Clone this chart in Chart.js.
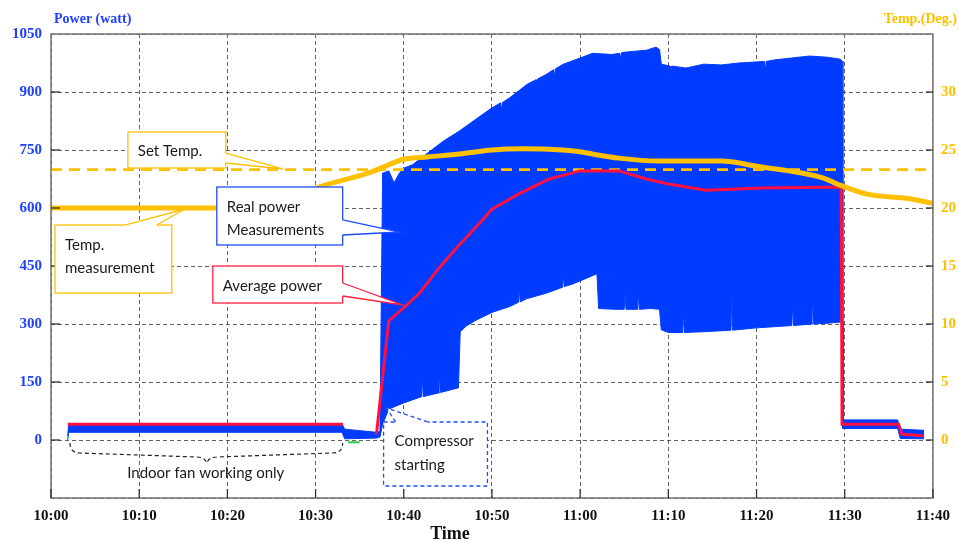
<!DOCTYPE html>
<html>
<head>
<meta charset="utf-8">
<script src="https://cdn.jsdelivr.net/npm/chart.js@4.4.0/dist/chart.umd.min.js"></script>
<style>
  html, body { margin: 0; padding: 0; background: #ffffff; }
  canvas { display: block; }
</style>
</head>
<body>
<canvas id="c" width="959" height="542"></canvas>
<script>
// ---- Data (time in minutes after 10:00) ----
const timeLabels = ['10:00','10:10','10:20','10:30','10:40','10:50','11:00','11:10','11:20','11:30','11:40'];

// Real power measurements: envelope (min / max of the fast-varying signal), watts
const upperTime = [1.9, 2.0, 33.0, 33.3, 36.9, 37.3, 37.6, 38.3, 38.9, 39.5, 40.0, 41.0, 42.7, 44.5, 46.3, 48.2, 50.0, 51.0, 51.1, 51.2, 52.0, 54.0, 55.0, 55.1, 55.2, 56.2, 57.0, 57.1, 57.2, 58.1, 60.0, 61.4, 63.6, 64.5, 64.6, 64.7, 65.5, 67.5, 68.6, 69.0, 69.2, 70.2, 70.3, 70.4, 72.0, 74.0, 76.0, 78.0, 80.9, 81.0, 81.1, 82.0, 84.0, 86.0, 88.0, 89.5, 89.7, 89.8, 96.0, 96.3, 99.0];
const upperWatt = [10, 42, 42, 28, 20, 22, 690, 696, 665, 690, 703, 712, 742, 773, 799, 830, 859, 872, 850, 873, 885, 920, 932, 912, 934, 946, 958, 940, 960, 972, 988, 1000, 997, 1000, 985, 1002, 1004, 1008, 1016, 1010, 972, 967, 935, 967, 962, 972, 970, 975, 979, 953, 979, 983, 988, 993, 990, 985, 980, 52, 52, 28, 25];

const lowerTime = [1.9, 2.0, 33.0, 33.3, 36.9, 37.3, 37.6, 38.3, 40.0, 42.0, 42.1, 42.2, 42.7, 44.0, 44.1, 44.2, 44.5, 46.2, 46.4, 47.1, 48.2, 50.0, 52.0, 53.0, 53.1, 53.2, 53.9, 56.2, 58.0, 58.1, 58.2, 59.1, 61.4, 61.9, 62.1, 64.0, 65.0, 65.1, 65.2, 66.5, 66.6, 66.7, 68.0, 69.0, 69.2, 70.0, 71.6, 71.7, 71.8, 74.0, 77.1, 77.2, 77.3, 80.0, 82.0, 84.0, 84.1, 84.2, 86.3, 86.4, 86.5, 88.0, 89.5, 89.7, 89.8, 96.0, 96.3, 99.0];
const lowerWatt = [0, 20, 20, 3, 5, 8, 40, 80, 96, 112, 165, 112, 115, 122, 160, 123, 125, 135, 280, 295, 310, 330, 345, 356, 390, 357, 365, 380, 395, 425, 397, 403, 425, 430, 340, 338, 338, 385, 338, 338, 380, 338, 340, 338, 285, 278, 278, 334, 278, 280, 284, 385, 284, 290, 293, 296, 350, 296, 300, 352, 300, 302, 305, 305, 30, 30, 4, 3];

// Average power, watts
const avgTime = [1.9, 33.1, 33.2, 36.9, 38.3, 40.0, 41.8, 44.0, 46.0, 48.2, 50.0, 53.0, 56.5, 60.0, 64.4, 67.5, 70.0, 74.3, 80.6, 89.6, 89.7, 96.1, 96.5, 99.0];
const avgWatt = [41, 41, null, 14, 308, 342, 380, 445, 497, 551, 597, 636, 675, 696, 696, 675, 662, 646, 652, 654, 41, 41, 15, 11];

// Temperature measurement, degrees
const tempTime = [0, 22.5, 27.0, 30.8, 36.3, 38.2, 40.0, 42.7, 46.3, 50.0, 53.5, 58.0, 60.0, 61.4, 64.4, 68.9, 76.0, 80.0, 87.5, 89.7, 92.5, 97.4, 100];
const tempDeg = [20.0, 20.0, 20.8, 21.9, 23.1, 23.7, 24.2, 24.4, 24.65, 25.0, 25.1, 25.0, 24.85, 24.65, 24.3, 24.05, 24.05, 23.6, 22.6, 21.9, 21.2, 20.8, 20.4];

// Set temperature, degrees
const setTime = [0, 100];
const setDeg = [23.3, 23.3];

// Small green trace before compressor start, watts
const greenTime = [33.7, 35.0];
const greenWatt = [-6, -6];

const pts = (xs, ys) => xs.map((x, i) => ({ x: x, y: ys[i] }));

// ---- Annotations (data coordinates: minutes, watts) ----
const notes = [
  { lines: ['Set Temp.'], color: '#FFC000', dash: false,
    box: [8.72, 796.5, 19.82, 703.4], tip: [26.27, 700.9], base: [[19.82, 742.2], [19.82, 716.4]],
    text: [9.85, 747.4], gap: 59.5 },
  { lines: ['Temp.', 'measurement'], color: '#FFC000', dash: false,
    box: [0.45, 556, 13.7, 380], tip: [15.18, 597.4], base: [[8.38, 556], [12.0, 556]],
    text: [1.59, 504.3], gap: 59.5 },
  { lines: ['Real power', 'Measurements'], color: '#1F4BFF', dash: false,
    box: [18.8, 654.3, 33.07, 504.3], tip: [39.52, 537.9], base: [[33.07, 569], [33.07, 530.2]],
    text: [19.93, 602.6], gap: 59.5 },
  { lines: ['Average power'], color: '#FF2040', dash: false,
    box: [18.35, 450, 33.07, 354.3], tip: [39.86, 349.1], base: [[33.07, 406], [33.07, 372.4]],
    text: [19.48, 398.3], gap: 59.5 },
  { lines: ['Compressor', 'starting'], color: '#1F4BFF', dash: true,
    box: [37.71, 46.6, 49.49, -119], tip: [38.05, 82.8], base: [[39.07, 46.6], [42.7, 46.6]],
    text: [38.96, -2.6], gap: 62 }
];
const brace = { label: 'Indoor fan working only', text: [17.55, -85.3],
  left: [2.15, -7.8], leftBend: [3.28, -33.6], midL: [16.53, -44], tipPt: [17.67, -59.5],
  midR: [18.8, -44], rightBend: [31.94, -33.6], right: [33.07, -7.8] };

const deco = {
  id: 'deco',
  afterDatasetsDraw(chart) {
    const { ctx, chartArea: a, scales } = chart;
    const X = v => scales.x.getPixelForValue(v);
    const Y = v => scales.y.getPixelForValue(v);
    const line = (x1, y1, x2, y2) => { ctx.beginPath(); ctx.moveTo(x1, y1); ctx.lineTo(x2, y2); ctx.stroke(); };
    ctx.save();
    // plot border
    ctx.setLineDash([]);
    ctx.strokeStyle = '#7a7a7a'; ctx.lineWidth = 1.6;
    ctx.strokeRect(a.left, a.top, a.right - a.left, a.bottom - a.top);
    // inward tick marks
    ctx.strokeStyle = '#333'; ctx.lineWidth = 1.3;
    scales.x.ticks.forEach(t => { const px = X(t.value); line(px, a.bottom, px, a.bottom - 9); });
    scales.y.ticks.forEach(t => { if (t.value >= 0 && t.value < 1050) { const py = Y(t.value); line(a.left, py, a.left + 9, py); } });
    scales.y2.ticks.forEach(t => { if (t.value >= 0 && t.value < 35) { const py = scales.y2.getPixelForValue(t.value); line(a.right, py, a.right - 7, py); } });

    // callout boxes
    notes.forEach(n => {
      const L = X(n.box[0]), T = Y(n.box[1]), R = X(n.box[2]), B = Y(n.box[3]);
      const tip = [X(n.tip[0]), Y(n.tip[1])];
      const b1 = [X(n.base[0][0]), Y(n.base[0][1])];
      const b2 = [X(n.base[1][0]), Y(n.base[1][1])];
      ctx.setLineDash([]);
      ctx.fillStyle = '#ffffff';
      ctx.beginPath(); ctx.moveTo(b1[0], b1[1]); ctx.lineTo(tip[0], tip[1]); ctx.lineTo(b2[0], b2[1]); ctx.closePath(); ctx.fill();
      ctx.fillRect(L, T, R - L, B - T);
      ctx.setLineDash(n.dash ? [4, 3] : []);
      ctx.strokeStyle = n.color; ctx.lineWidth = 1.3;
      ctx.strokeRect(L, T, R - L, B - T);
      ctx.setLineDash([]);
      ctx.strokeStyle = '#ffffff'; ctx.lineWidth = 3;
      line(b1[0], b1[1], b2[0], b2[1]);
      ctx.setLineDash(n.dash ? [4, 3] : []);
      ctx.strokeStyle = n.color; ctx.lineWidth = 1.3;
      ctx.beginPath(); ctx.moveTo(b1[0], b1[1]); ctx.lineTo(tip[0], tip[1]); ctx.lineTo(b2[0], b2[1]); ctx.stroke();
      ctx.setLineDash([]);
      ctx.fillStyle = '#1a1a1a';
      ctx.font = '15px Lato, "Open Sans", sans-serif';
      ctx.textAlign = 'left'; ctx.textBaseline = 'middle';
      const tx = X(n.text[0]), ty = Y(n.text[1]);
      const step = Y(0) - Y(n.gap);
      n.lines.forEach((s, i) => ctx.fillText(s, tx, ty + i * step));
    });

    // curly brace (dashed)
    const P = p => [X(p[0]), Y(p[1])];
    const l = P(brace.left), lb = P(brace.leftBend), ml = P(brace.midL), tp = P(brace.tipPt),
          mr = P(brace.midR), rb = P(brace.rightBend), r = P(brace.right);
    ctx.setLineDash([4, 3]);
    ctx.strokeStyle = '#222'; ctx.lineWidth = 1.2;
    ctx.beginPath();
    ctx.moveTo(l[0], l[1]);
    ctx.quadraticCurveTo(l[0], lb[1], lb[0], lb[1]);
    ctx.lineTo(ml[0], ml[1]);
    ctx.quadraticCurveTo(tp[0] - 2, ml[1], tp[0], tp[1]);
    ctx.quadraticCurveTo(tp[0] + 2, mr[1], mr[0], mr[1]);
    ctx.lineTo(rb[0], rb[1]);
    ctx.quadraticCurveTo(r[0], rb[1], r[0], r[1]);
    ctx.stroke();
    ctx.setLineDash([]);
    ctx.fillStyle = '#1a1a1a';
    ctx.font = '15px Lato, "Open Sans", sans-serif';
    ctx.textAlign = 'center'; ctx.textBaseline = 'middle';
    ctx.fillText(brace.label, X(brace.text[0]), Y(brace.text[1]));
    ctx.restore();
  },
  afterDraw(chart) {
    const { ctx, chartArea: a, width } = chart;
    ctx.save();
    ctx.textBaseline = 'middle';
    ctx.font = 'bold 14px "Liberation Serif", "Times New Roman", serif';
    ctx.fillStyle = '#2040FF'; ctx.textAlign = 'left';
    ctx.fillText('Power (watt)', a.left + 3, a.top - 15);
    ctx.fillStyle = '#FFC000'; ctx.textAlign = 'right';
    ctx.fillText('Temp.(Deg.)', width - 2, a.top - 15);
    ctx.font = 'bold 18px "Liberation Serif", "Times New Roman", serif';
    ctx.fillStyle = '#111'; ctx.textAlign = 'center';
    ctx.fillText('Time', a.left + 399, a.bottom + 36);
    ctx.restore();
  }
};

const gridStyle = { color: 'rgba(70,70,70,0.85)', lineWidth: 1, drawTicks: false };
const borderStyle = { display: false, dash: [4, 3] };

new Chart(document.getElementById('c'), {
  type: 'line',
  data: {
    datasets: [
      { label: 'lower', data: pts(lowerTime, lowerWatt), yAxisID: 'y', borderColor: '#003CFF', borderWidth: 1,
        pointRadius: 0, fill: false, order: 10 },
      { label: 'Real power Measurements', data: pts(upperTime, upperWatt), yAxisID: 'y', borderColor: '#003CFF', borderWidth: 1,
        backgroundColor: '#003CFF', pointRadius: 0, fill: '-1', order: 9 },
      { label: 'green', data: pts(greenTime, greenWatt), yAxisID: 'y', borderColor: '#22CC44', borderWidth: 2,
        pointRadius: 0, fill: false, order: 8 },
      { label: 'Set Temp.', data: pts(setTime, setDeg), yAxisID: 'y2', borderColor: '#FFC000', borderWidth: 2.8,
        borderDash: [11, 7], pointRadius: 0, fill: false, order: 7 },
      { label: 'Average power', data: pts(avgTime, avgWatt), yAxisID: 'y', borderColor: '#FF1040', borderWidth: 3,
        pointRadius: 0, fill: false, spanGaps: false, order: 6 },
      { label: 'Temp. measurement', data: pts(tempTime, tempDeg), yAxisID: 'y2', borderColor: '#FFC000', borderWidth: 5,
        pointRadius: 0, fill: false, cubicInterpolationMode: 'monotone', order: 5 }
    ]
  },
  options: {
    responsive: false,
    animation: false,
    devicePixelRatio: 1,
    layout: { padding: { top: 34, left: 0, right: 0, bottom: 0 } },
    plugins: { legend: { display: false }, tooltip: { enabled: false } },
    scales: {
      x: {
        type: 'linear', min: 0, max: 100,
        afterFit(s) { s.height = 44; },
        grid: gridStyle, border: borderStyle,
        ticks: {
          stepSize: 10, padding: 9, maxRotation: 0, autoSkip: false, color: '#111',
          font: { family: '"Liberation Serif", "Times New Roman", serif', size: 15, weight: 'bold' },
          callback: v => timeLabels[Math.round(v / 10)]
        }
      },
      y: {
        position: 'left', min: -150, max: 1050,
        afterFit(s) { s.width = 51; },
        grid: gridStyle, border: borderStyle,
        ticks: {
          stepSize: 150, padding: 9, color: '#2040FF',
          font: { family: '"Liberation Serif", "Times New Roman", serif', size: 15, weight: 'bold' },
          callback: v => (v >= 0 ? String(v) : '')
        }
      },
      y2: {
        position: 'right', min: -5, max: 35,
        afterFit(s) { s.width = 25; },
        grid: { display: false, drawTicks: false }, border: { display: false },
        ticks: {
          stepSize: 5, padding: 8, color: '#FFC000',
          font: { family: '"Liberation Serif", "Times New Roman", serif', size: 15, weight: 'bold' },
          callback: v => (v >= 0 && v <= 30 ? String(v) : '')
        }
      }
    }
  },
  plugins: [deco]
});
</script>
</body>
</html>
